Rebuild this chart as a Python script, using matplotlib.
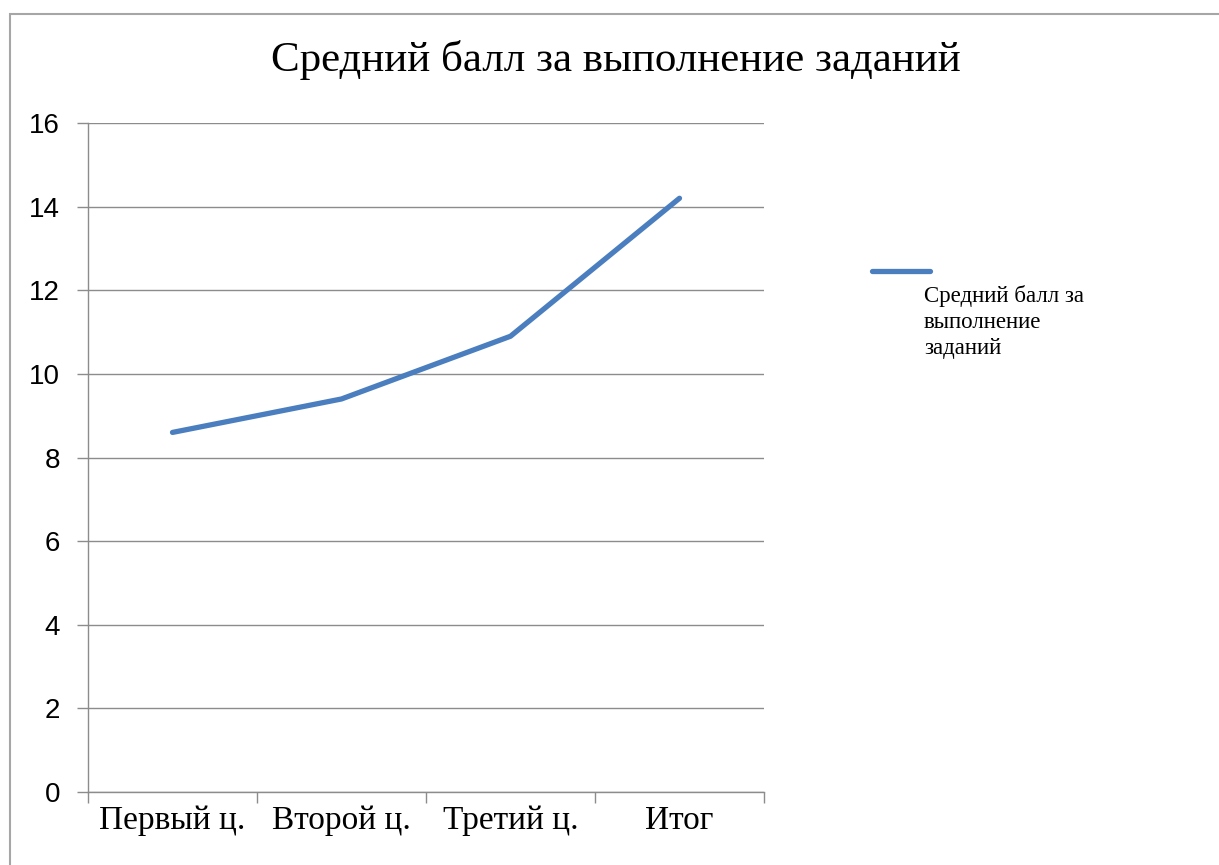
import matplotlib
matplotlib.use("Agg")
import matplotlib.pyplot as plt
from matplotlib.lines import Line2D
from matplotlib.patches import Rectangle

categories = ["Первый ц.", "Второй ц.", "Третий ц.", "Итог"]
scores = [8.6, 9.4, 10.9, 14.2]
series_label = "Средний балл за\nвыполнение\nзаданий"
title = "Средний балл за выполнение заданий"
yticks = [0, 2, 4, 6, 8, 10, 12, 14, 16]

W, H = 1219, 865
fig = plt.figure(figsize=(W / 100, H / 100), dpi=100)
ax = fig.add_axes([88 / W, 1 - 792 / H, (764 - 88) / W, (792 - 123) / H])

line_color = "#4A7EBE"
grid_color = "#8c8c8c"
x = list(range(len(categories)))
ax.plot(x, scores, color=line_color, lw=3.8, solid_capstyle="round", solid_joinstyle="round")

ax.set_xlim(-0.5, len(categories) - 0.5)
ax.set_ylim(0, 16)
ax.set_yticks(yticks)
ax.set_yticklabels([str(v) for v in yticks], family="Liberation Sans", fontsize=20)
ax.grid(axis="y", color=grid_color, lw=1.0)
ax.set_axisbelow(True)

ax.set_xticks(x)
ax.set_xticklabels(categories, family="Liberation Serif", fontsize=24)
ax.tick_params(axis="x", which="major", length=0, pad=10)
ax.set_xticks([i - 0.5 for i in range(len(categories) + 1)], minor=True)
ax.tick_params(axis="x", which="minor", length=8, color=grid_color, width=1.0)
ax.tick_params(axis="y", length=8, color=grid_color, width=1.0, pad=12)

for side in ["top", "right"]:
    ax.spines[side].set_visible(False)
for side in ["left", "bottom"]:
    ax.spines[side].set_color(grid_color)
    ax.spines[side].set_linewidth(1.0)

fig.text(616 / W, 1 - 60 / H, title, family="Liberation Serif", fontsize=31,
         ha="center", va="center")

# legend: line above wrapped label
fig.add_artist(Line2D([872 / W, 930 / W], [1 - 271 / H, 1 - 271 / H],
                      color=line_color, lw=3.8, solid_capstyle="round"))
fig.text(924 / W, 1 - 285 / H, series_label, family="Liberation Serif", fontsize=16.5,
         ha="left", va="top", linespacing=1.3)

# outer chart frame (partially visible)
fig.add_artist(Rectangle((10 / W, -0.1), 1.2, 1 - 14 / H + 0.1, fill=False,
                         edgecolor="#a6a6a6", lw=1.5, transform=fig.transFigure))

fig.savefig("out.png", dpi=100)
